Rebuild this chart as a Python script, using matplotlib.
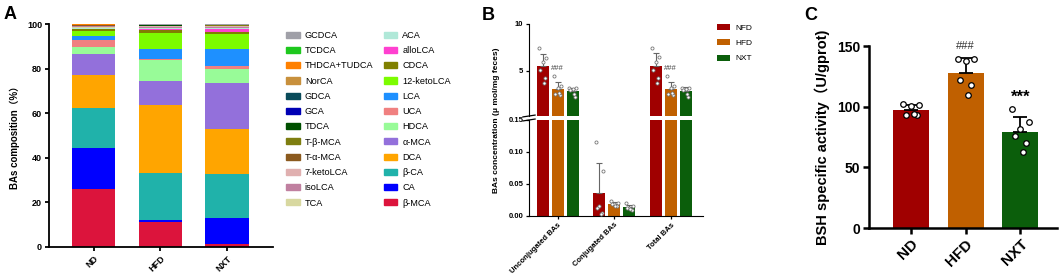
import numpy as np
import matplotlib.pyplot as plt
from matplotlib.patches import Patch

plt.rcParams['font.family'] = ['Liberation Sans', 'Noto Sans CJK SC', 'DejaVu Sans']

# ---- Panel A data: bile acid composition (%), bottom -> top of stack
groups_a = ['ND', 'HFD', 'NXT']
ba_names = ['β-MCA', 'CA', 'β-CA', 'DCA', 'α-MCA', 'HDCA', 'UCA', 'LCA', '12-ketoLCA',
            'CDCA', 'alloLCA', 'ACA', 'TCA', 'isoLCA', '7-ketoLCA', 'T-α-MCA', 'T-β-MCA',
            'TDCA', 'GCA', 'GDCA', 'NorCA', 'THDCA+TUDCA', 'TCDCA', 'GCDCA']
nd_pct = [26.0, 18.5, 17.8, 14.9, 9.3, 3.0, 3.2, 2.1, 2.0, 0.8, 0.3, 0.2, 0.6, 0.3, 0.3,
          0.1, 0.1, 0.05, 0.05, 0.05, 0.1, 0.05, 0.05, 0.15]
hfd_pct = [11.0, 1.2, 20.8, 30.5, 11.0, 9.2, 0.5, 4.5, 7.3, 1.3, 0.5, 0.2, 0.2, 0.3, 0.6,
           0.1, 0.1, 0.05, 0.05, 0.05, 0.1, 0.05, 0.05, 0.35]
nxt_pct = [1.5, 11.5, 19.7, 20.3, 20.5, 6.5, 1.3, 7.5, 6.5, 1.2, 1.2, 0.3, 0.3, 0.4, 0.5,
           0.1, 0.1, 0.05, 0.05, 0.05, 0.1, 0.05, 0.05, 0.25]
ba_colors = ['#DC143C', '#0000FF', '#20B2AA', '#FFA500', '#9370DB', '#98FB98', '#F08080',
             '#1E90FF', '#7CFC00', '#808000', '#FF40D0', '#B0E8D8', '#D8D8A0', '#C080A0',
             '#E0B0B0', '#8B5A1E', '#7E7E10', '#005000', '#0000B4', '#0A4B5A', '#C8903C',
             '#FF8000', '#1EC81E', '#A0A0A8']

# ---- Panel B data: BA concentration (umol/mg feces), individual animals
cats_b = ['Unconjugated BAs', 'Conjugated BAs', 'Total BAs']
groups_b = ['NFD', 'HFD', 'NXT']
b_points = {
    'NFD': [[7.4, 6.4, 5.9, 5.1, 4.2, 3.7],
            [0.115, 0.07, 0.015, 0.012, 0.005, 0.003],
            [7.4, 6.5, 5.9, 5.1, 4.2, 3.7]],
    'HFD': [[4.4, 3.4, 3.1, 2.5, 2.4, 2.6],
            [0.024, 0.021, 0.019, 0.018, 0.015, 0.016],
            [4.4, 3.4, 3.1, 2.5, 2.4, 2.6]],
    'NXT': [[3.1, 3.1, 3.0, 2.9, 2.2, 2.5],
            [0.020, 0.016, 0.013, 0.012, 0.010, 0.011],
            [3.1, 3.2, 3.0, 2.9, 2.2, 2.5]],
}
break_b = 0.15

# ---- Panel C data: BSH specific activity (U/gprot)
groups_c = ['ND', 'HFD', 'NXT']
c_points = [[101.8, 101.0, 100.5, 93.0, 93.5, 93.8],
            [139.0, 139.0, 138.0, 122.0, 118.0, 109.6],
            [98.0, 87.0, 82.0, 76.0, 70.0, 63.0]]

grp_colors = ['#A00000', '#C06000', '#0B5E0B']
jit = np.array([-0.3, 0.3, 0.0, -0.2, 0.2, 0.1])

W, H = 1059, 274
fig = plt.figure(figsize=(W / 100, H / 100), dpi=100)


def px_axes(x0, y0, x1, y1):
    # axes from pixel box (top-left origin)
    return fig.add_axes([x0 / W, 1 - y1 / H, (x1 - x0) / W, (y1 - y0) / H])


# ================= Panel A =================
axA = px_axes(49, 24, 273, 247)
xa = np.arange(len(groups_a))
data_a = np.array([nd_pct, hfd_pct, nxt_pct])
bottom = np.zeros(len(groups_a))
handles = {}
for i, name in enumerate(ba_names):
    axA.bar(xa, data_a[:, i], 0.65, bottom=bottom, color=ba_colors[i], linewidth=0)
    handles[name] = Patch(color=ba_colors[i])
    bottom += data_a[:, i]
axA.set_xlim(-0.67, 2.69)
axA.set_ylim(0, 100)
axA.set_yticks([0, 20, 40, 60, 80, 100])
axA.set_xticks(xa)
axA.set_xticklabels(groups_a, rotation=45, ha='right', rotation_mode='anchor',
                    fontsize=6.5, fontweight='bold')
for t in axA.get_yticklabels():
    t.set_fontsize(6.5)
    t.set_fontweight('bold')
axA.set_ylabel('BAs composition（%）', fontsize=7, fontweight='bold', labelpad=5)
for s in ['top', 'right']:
    axA.spines[s].set_visible(False)
for s in ['left', 'bottom']:
    axA.spines[s].set_linewidth(1.3)
axA.tick_params(width=1.3, length=3, pad=2)

leg_order = ['GCDCA', 'TCDCA', 'THDCA+TUDCA', 'NorCA', 'GDCA', 'GCA', 'TDCA', 'T-β-MCA',
             'T-α-MCA', '7-ketoLCA', 'isoLCA', 'TCA',
             'ACA', 'alloLCA', 'CDCA', '12-ketoLCA', 'LCA', 'UCA', 'HDCA', 'α-MCA', 'DCA',
             'β-CA', 'CA', 'β-MCA']
fig.legend([handles[n] for n in leg_order], leg_order, ncol=2, frameon=False,
           loc='upper left', bbox_to_anchor=(286 / W, 1 - 31 / H), fontsize=6.6,
           handlelength=1.5, handleheight=0.65, handletextpad=0.55, columnspacing=1.1,
           labelspacing=0.68, borderaxespad=0, borderpad=0)

# ================= Panel B =================
axBu = px_axes(529, 24, 703, 116)
axBl = px_axes(529, 120, 703, 216)
xb = np.arange(len(cats_b))
bw = 0.21
offs = [-0.265, 0.0, 0.265]
for ax, upper in ((axBu, True), (axBl, False)):
    for g, (grp, off) in enumerate(zip(groups_b, offs)):
        pts = b_points[grp]
        means = np.array([np.mean(p) for p in pts])
        sds = np.array([np.std(p, ddof=1) for p in pts])
        ax.bar(xb + off, means, bw, color=grp_colors[g], linewidth=0, label=grp)
        sel = (means > break_b) if upper else (means <= break_b)
        ax.errorbar((xb + off)[sel], means[sel], yerr=[np.zeros(sel.sum()), sds[sel]],
                    fmt='none', ecolor='#666666', elinewidth=0.8, capsize=2.5,
                    capthick=0.8)
        for k in range(3):
            if sel[k]:
                ax.scatter(xb[k] + off + jit * bw, pts[k], s=5, facecolor='white',
                           edgecolor='#777777', linewidth=0.6, zorder=3)
    ax.set_xlim(-0.51, 2.57)
    for s in ['top', 'right']:
        ax.spines[s].set_visible(False)
    ax.tick_params(width=0.9, length=2.5, pad=1.5, labelsize=5.5)
    for t in ax.get_yticklabels():
        t.set_fontweight('bold')

axBu.set_ylim(break_b, 10)
axBu.set_yticks([5, 10])
axBu.spines['bottom'].set_visible(False)
axBu.set_xticks([])
axBl.set_ylim(0, break_b)
axBl.set_yticks([0, 0.05, 0.10, 0.15])
axBl.set_yticklabels(['0.00', '0.05', '0.10', '0.15'], fontweight='bold')
axBl.set_xticks(xb)
axBl.set_xticklabels(cats_b, rotation=45, ha='right', rotation_mode='anchor',
                     fontsize=5.5, fontweight='bold')
# axis break marks
for ax, yy in ((axBu, 0.0), (axBl, 1.0)):
    ax.plot([-0.035, 0.035], [yy - 0.01, yy + 0.01], transform=ax.transAxes,
            color='black', lw=0.9, clip_on=False)
for k in (0, 2):
    axBu.text(xb[k] + offs[1], 5.2, '###', ha='center', va='center', fontsize=5.5,
              color='#444444')
fig.text(497 / W, 1 - 120 / H, 'BAs concentration (μ mol/mg feces)', rotation=90,
         ha='center', va='center', fontsize=6, fontweight='bold')
hB, lB = axBu.get_legend_handles_labels()
fig.legend(hB, lB, frameon=False, loc='upper left', bbox_to_anchor=(717 / W, 1 - 24 / H),
           fontsize=6, handlelength=1.6, handleheight=0.7, handletextpad=0.6,
           labelspacing=0.9, borderaxespad=0, borderpad=0)

# ================= Panel C =================
axC = px_axes(869, 46, 1057, 228)
xc = np.arange(len(groups_c))
c_means = [np.mean(p) for p in c_points]
c_sds = [np.std(p, ddof=1) for p in c_points]
axC.bar(xc, c_means, 0.66, color=grp_colors, linewidth=0)
axC.errorbar(xc, c_means, yerr=[np.zeros(3), c_sds], fmt='none', ecolor='black',
             elinewidth=1.3, capsize=5, capthick=1.3)
for k in range(3):
    axC.scatter(xc[k] + jit * 0.5, c_points[k], s=16, facecolor='white',
                edgecolor='black', linewidth=0.9, zorder=3)
axC.set_xlim(-0.77, 2.67)
axC.set_ylim(0, 150)
axC.set_yticks([0, 50, 100, 150])
axC.set_xticks(xc)
axC.set_xticklabels(groups_c, rotation=45, ha='right', rotation_mode='anchor',
                    fontsize=11, fontweight='bold')
for t in axC.get_yticklabels():
    t.set_fontsize(10)
    t.set_fontweight('bold')
for s in ['top', 'right']:
    axC.spines[s].set_visible(False)
for s in ['left', 'bottom']:
    axC.spines[s].set_linewidth(1.8)
axC.tick_params(width=1.8, length=4.5, pad=2)
axC.set_ylabel('BSH specific activity（U/gprot)', fontsize=10.5, fontweight='bold',
               labelpad=5)
axC.text(1, 150, '###', ha='center', va='center', fontsize=8, color='#333333')
axC.text(2, 108, '***', ha='center', va='center', fontsize=12, fontweight='bold')

# panel letters
for lab, x, y in (('A', 4, 6), ('B', 482, 7), ('C', 804, 7)):
    fig.text(x / W, 1 - y / H, lab, ha='left', va='top', fontsize=13, fontweight='bold')

fig.savefig('out.png', dpi=100)
